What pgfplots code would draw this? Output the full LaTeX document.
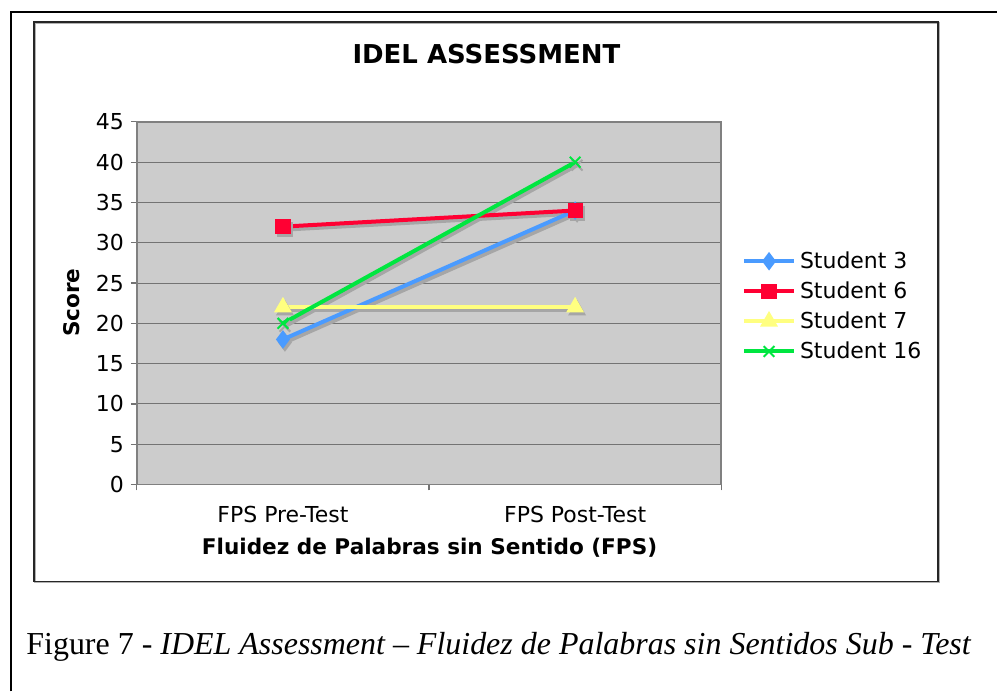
\documentclass[border=0pt]{standalone}
\usepackage{pgfplots}
\pgfplotsset{compat=1.18}
\usepackage{fontspec}
\setmainfont{DejaVu Sans}
\newfontfamily\capfont{Liberation Serif}
\definecolor{sA}{HTML}{4A9BFF}
\definecolor{sB}{HTML}{FF0033}
\definecolor{sC}{HTML}{FFFF80}
\definecolor{sD}{HTML}{00E640}
\definecolor{plotbg}{HTML}{CCCCCC}
\definecolor{shadowgray}{HTML}{A6A6A6}
\begin{document}
\begin{tikzpicture}
\path[fill=white] (0pt,0pt) rectangle (499pt,346pt);
\draw[line width=1.1pt] (5.5pt,0pt) -- (5.5pt,340pt) -- (499pt,340pt);
\draw[black!30, line width=0.8pt] (17.6pt,54.4pt) rectangle (470.1pt,334.4pt);
\draw[black!85, line width=0.8pt] (17pt,55pt) rectangle (469.5pt,335pt);
\begin{axis}[
  at={(68.5pt,103.5pt)}, anchor=south west,
  scale only axis, width=292.5pt, height=181.5pt,
  xmin=0, xmax=2, ymin=0, ymax=45,
  ytick={0,5,...,45},
  xtick={0,1,2}, xticklabels={FPS Pre-Test, FPS Post-Test},
  x tick label as interval,
  xtick pos=bottom, ytick pos=left,
  ymajorgrids, grid style={black!55, line width=0.5pt},
  axis background/.style={fill=plotbg},
  axis line style={black!50, line width=0.8pt},
  tick align=outside, major tick length=3pt,
  tick style={black!55, line width=0.6pt},
  /pgf/number format/assume math mode=true,
  tick label style={font=\fontsize{11}{13}\selectfont},
  xticklabel style={yshift=-4.5pt},
  legend style={at={(1.035,0.655)}, anchor=north west, draw=none, fill=none,
    font=\fontsize{11}{13}\selectfont, row sep=1.2pt, inner sep=0pt},
  legend cell align=left,
  legend image code/.code={\draw[mark repeat=2,mark phase=2] plot coordinates {(0pt,0pt) (12.5pt,0pt) (25pt,0pt)};},
  every axis plot/.append style={line width=2pt},
]
% shadows
\addplot[shadowgray, shift={(1pt,-1.5pt)}, mark=diamond*, mark size=3pt, forget plot] coordinates {(0.5,18) (1.5,34)};
\addplot[shadowgray, shift={(1pt,-1.5pt)}, mark=square*, mark size=2.8pt, forget plot] coordinates {(0.5,32) (1.5,34)};
\addplot[shadowgray, shift={(1pt,-1.5pt)}, mark=triangle*, mark size=3.2pt, forget plot] coordinates {(0.5,22) (1.5,22)};
\addplot[shadowgray, shift={(1pt,-1.5pt)}, mark=x, mark size=3.8pt, mark options={line width=1pt}, forget plot] coordinates {(0.5,20) (1.5,40)};
% series
\addplot[sA, mark=diamond*, mark size=3pt] coordinates {(0.5,18) (1.5,34)};
\addlegendentry{Student 3}
\addplot[sB, mark=square*, mark size=2.8pt] coordinates {(0.5,32) (1.5,34)};
\addlegendentry{Student 6}
\addplot[sC, mark=triangle*, mark size=3.2pt] coordinates {(0.5,22) (1.5,22)};
\addlegendentry{Student 7}
\addplot[sD, mark=x, mark size=3.8pt, mark options={line width=1pt}] coordinates {(0.5,20) (1.5,40)};
\addlegendentry{Student 16}
\end{axis}
\node[font=\bfseries\fontsize{13}{15}\selectfont] at (243.5pt,319pt) {IDEL ASSESSMENT};
\node[font=\bfseries\fontsize{10.8}{13}\selectfont] at (215pt,72pt) {Fluidez de Palabras sin Sentido (FPS)};
\node[font=\bfseries\fontsize{10.8}{13}\selectfont, rotate=90] at (36pt,194.5pt) {Score};
\node[anchor=base west, inner sep=0pt, font=\capfont\fontsize{16}{19}\selectfont] at (13pt,18.5pt)
  {Figure 7 - \textit{IDEL Assessment – Fluidez de Palabras sin Sentidos Sub} - \textit{Test}};
\end{tikzpicture}
\end{document}
